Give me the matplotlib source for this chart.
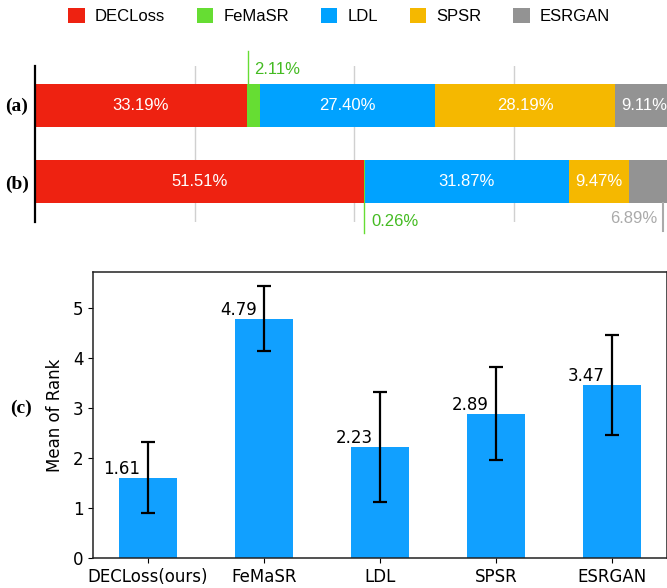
import numpy as np
import matplotlib
matplotlib.use("Agg")
import matplotlib.pyplot as plt
from matplotlib.patches import Patch

#---------------------------------------------------------------------------
# data
methods = ["DECLoss", "FeMaSR", "LDL", "SPSR", "ESRGAN"]
colors = ["#ee2211", "#66dd33", "#00a2ff", "#f5b800", "#939393"]
share_a = [33.19, 2.11, 27.40, 28.19, 9.11]   # percentage of votes, study (a)
share_b = [51.51, 0.26, 31.87, 9.47, 6.89]    # percentage of votes, study (b)

rank_labels = ["DECLoss(ours)", "FeMaSR", "LDL", "SPSR", "ESRGAN"]
rank_mean = [1.61, 4.79, 2.23, 2.89, 3.47]
rank_std = [0.71, 0.65, 1.10, 0.93, 1.00]
#---------------------------------------------------------------------------

sans = "Liberation Sans"
serif = "Liberation Serif"
W, H = 667, 588
fig = plt.figure(figsize=(W / 100, H / 100), dpi=100)

# ---- stacked percentage bars (a), (b)
ax1 = fig.add_axes((35 / W, 1 - 222 / H, 638 / W, 156 / H))
bar_h = 0.566
rows = [share_a, share_b]
for r, shares in enumerate(rows):
    left = np.concatenate([[0], np.cumsum(shares)[:-1]])
    ax1.barh(r, shares, left=left, height=bar_h, color=colors, linewidth=0)
    for i, (l, w) in enumerate(zip(left, shares)):
        if w > 5 and not (r == 1 and i == 4):
            ax1.text(l + w / 2, r, f"{w:.2f}%", color="white", ha="center",
                     va="center", fontsize=12, family=sans)

ax1.set_xlim(0, 100)
ax1.set_ylim(1.53, -0.52)
ax1.set_xticks([25, 50, 75])
ax1.set_yticks([])
ax1.tick_params(axis="x", length=0, labelbottom=False)
ax1.grid(True, axis="x", color="#d0d0d0", linewidth=1)
ax1.set_axisbelow(True)
for s in ["top", "right", "bottom"]:
    ax1.spines[s].set_visible(False)
ax1.spines["left"].set_linewidth(1.6)

# small segments get a leader line with an outside label
cum_a = np.cumsum([0] + share_a)
cum_b = np.cumsum([0] + share_b)
green_txt = "#44bb22"
xa = cum_a[1] + 0.2
ax1.plot([xa, xa], [-bar_h / 2, -0.72], color=colors[1], lw=1, clip_on=False)
ax1.text(xa + 0.9, -0.47, f"{share_a[1]:.2f}%", color=green_txt, ha="left",
         va="center", fontsize=12, family=sans)
xb = cum_b[1] + share_b[1] / 2
ax1.plot([xb, xb], [1 + bar_h / 2, 1.68], color=colors[1], lw=1, clip_on=False)
ax1.text(xb + 1.1, 1.52, f"{share_b[1]:.2f}%", color=green_txt, ha="left",
         va="center", fontsize=12, family=sans)
xg = cum_b[4] + 0.77 * share_b[4]
ax1.plot([xg, xg], [1 + bar_h / 2, 1.65], color="#aaaaaa", lw=1.5, clip_on=False)
ax1.text(xg - 0.9, 1.48, f"{share_b[4]:.2f}%", color="#aaaaaa", ha="right",
         va="center", fontsize=12, family=sans)

fig.text(17 / W, 1 - 106 / H, "(a)", family=serif, weight="bold", fontsize=14,
         ha="center", va="center")
fig.text(17 / W, 1 - 184 / H, "(b)", family=serif, weight="bold", fontsize=14,
         ha="center", va="center")

handles = [Patch(facecolor=c, edgecolor="none") for c in colors]
fig.legend(handles, methods, loc="center", bbox_to_anchor=(339 / W, 1 - 16 / H),
           ncol=5, frameon=False, handlelength=1.0, handleheight=1.0,
           handletextpad=0.6, columnspacing=1.9, borderaxespad=0,
           prop={"family": sans, "size": 12})

# ---- mean rank with std
ax2 = fig.add_axes((93 / W, 30 / H, 574 / W, 286 / H))
x = np.arange(len(rank_labels))
ax2.bar(x, rank_mean, width=0.5, color="#11a0ff")
ax2.errorbar(x, rank_mean, yerr=rank_std, fmt="none", ecolor="black",
             elinewidth=1.6, capsize=5, capthick=1.6)
for xi, m in zip(x, rank_mean):
    ax2.annotate(f"{m:.2f}", (xi, m), xytext=(-5.4, 2.2), textcoords="offset points",
                 ha="right", va="baseline", fontsize=12)
ax2.set_xlim(-0.475, 4.475)
ax2.set_ylim(0, 5.72)
ax2.set_xticks(x)
ax2.set_xticklabels(rank_labels)
ax2.set_yticks(range(6))
ax2.tick_params(labelsize=12)
ax2.set_ylabel("Mean of Rank", fontsize=12, labelpad=6)
for s in ax2.spines.values():
    s.set_linewidth(1.1)
    s.set_color("#222222")

fig.text(21 / W, 1 - 408 / H, "(c)", family=serif, weight="bold", fontsize=14,
         ha="center", va="center")

fig.savefig("out.png", dpi=100)
